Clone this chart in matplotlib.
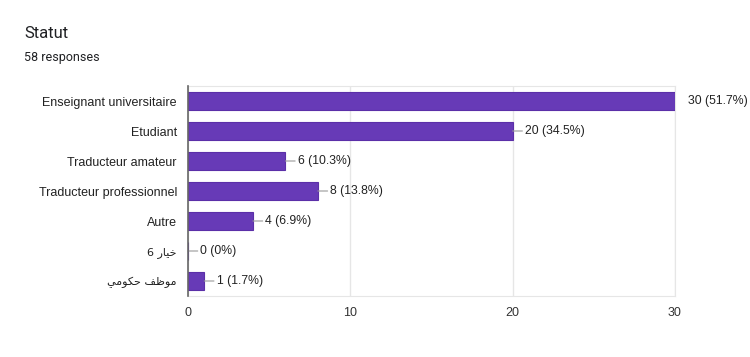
import matplotlib
matplotlib.use("Agg")
import matplotlib.pyplot as plt

categories = ["Enseignant universitaire", "Etudiant", "Traducteur amateur",
              "Traducteur professionnel", "Autre",
              "6 \uFEAD\uFE8E\uFEF4\uFEA7",
              "\uFEF2\uFEE3\uFEEE\uFEDC\uFEA3 \uFED2\uFEC7\uFEEE\uFEE3"]
values = [30, 20, 6, 8, 4, 0, 1]
pct_labels = ["51.7%", "34.5%", "10.3%", "13.8%", "6.9%", "0%", "1.7%"]
xticks = [0, 10, 20, 30]
title = "Statut"
subtitle = "58 responses"

fig = plt.figure(figsize=(7.5, 3.57), dpi=100)
ax = fig.add_axes([188/750, 1-296/357, (675-188)/750, 210/357])

y = list(range(len(categories)))
ax.barh(y, values, height=0.63, color="#673ab7", edgecolor="#5b2fa8", linewidth=0.8, zorder=3)
ax.set_ylim(len(categories)-0.5, -0.5)
ax.set_xlim(0, 30)
ax.set_xticks(xticks)
ax.set_xticklabels([str(t) for t in xticks], fontsize=9, color="#333333", family="Liberation Sans")
ax.set_yticks(y)
labs = ax.set_yticklabels(categories, fontsize=9, color="#222222")
for i, l in enumerate(labs):
    if i >= 5:
        l.set_family(["DejaVu Sans"])
        l.set_fontsize(8)
    else:
        l.set_family(["Liberation Sans"])
ax.tick_params(axis="both", length=0, pad=8)
ax.tick_params(axis="x", pad=8)
ax.grid(axis="x", color="#e6e6e6", linewidth=1, zorder=0)
for s in ["top", "right", "bottom"]:
    ax.spines[s].set_color("#e6e6e6")
ax.spines["left"].set_color("#666666")
ax.spines["left"].set_linewidth(1.2)
ax.spines["left"].set_zorder(4)

for i, (v, p) in enumerate(zip(values, pct_labels)):
    txt = f"{v} ({p})"
    if v == max(values):
        ax.annotate(txt, xy=(v, i), xytext=(9.5, 0), textcoords="offset points",
                    va="center", ha="left", fontsize=8.8, color="#222222", family="Liberation Sans",
                    annotation_clip=False)
    else:
        ax.annotate(txt, xy=(v, i), xytext=(9, 0), textcoords="offset points",
                    va="center", ha="left", fontsize=8.8, color="#222222", family="Liberation Sans",
                    arrowprops=dict(arrowstyle="-", color="#999999", lw=0.8, shrinkA=0, shrinkB=0),
                    annotation_clip=False)

fig.text(24/750, 1-34/357, title, fontsize=12, color="#202124", family="Roboto", va="center")
fig.text(24/750, 1-57/357, subtitle, fontsize=9, color="#202124", family="Roboto", va="center")

fig.savefig("out.png", dpi=100)
